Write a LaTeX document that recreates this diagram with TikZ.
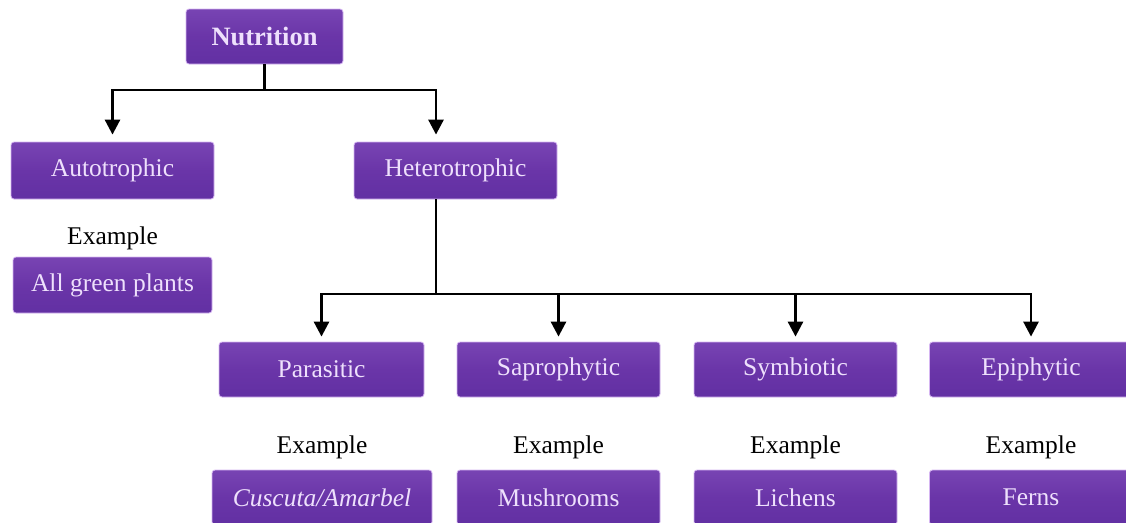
\documentclass[tikz,border=0pt]{standalone}
\usepackage{fontspec}
\setmainfont{Liberation Serif}
\usetikzlibrary{arrows.meta}
\definecolor{boxtop}{HTML}{7844B3}
\definecolor{boxmid}{HTML}{6A35A8}
\definecolor{boxbot}{HTML}{6230A3}
\definecolor{boxedge}{HTML}{D6B6F2}
\definecolor{boxtext}{HTML}{EEE0FC}
\tikzset{
  pbox/.style={draw=boxedge, line width=0.8pt, rounded corners=3pt,
    top color=boxtop, bottom color=boxbot, middle color=boxmid,
    text=boxtext, minimum width=203pt, minimum height=55pt, inner sep=0pt,
    font=\fontsize{25.5}{30}\selectfont},
  extext/.style={text=black, inner sep=0pt, font=\fontsize{25.5}{30}\selectfont},
  arr/.style={line width=2.8pt, -{Triangle[width=15pt,length=15pt]}},
  plainline/.style={line width=2.8pt}
}
\begin{document}
\begin{tikzpicture}[x=1pt,y=-1pt]
\clip (0,0) rectangle (1126,522);
\fill[white] (0,0) rectangle (1126,522);
% top level
\node[pbox, minimum width=157pt, font=\fontsize{26.5}{30}\selectfont\bfseries] (nut) at (264.5,36.5) {Nutrition};
\node[pbox, minimum height=57pt] (auto) at (112.5,170.5) {Autotrophic};
\node[pbox, minimum height=57pt] (het) at (455.5,170.5) {Heterotrophic};
\node[extext] (ex0) at (112.5,238) {Example};
\node[pbox, minimum width=199pt, minimum height=56pt] (agp) at (112.5,285) {All green plants};
% second level
\node[pbox, minimum width=205pt] (para) at (321.5,369.5) {Parasitic};
\node[pbox] (sapr) at (558.5,369.5) {Saprophytic};
\node[pbox] (symb) at (795.5,369.5) {Symbiotic};
\node[pbox] (epi) at (1031,369.5) {Epiphytic};
\node[extext] (ex1) at (322,447) {Example};
\node[extext] (ex2) at (558.5,447) {Example};
\node[extext] (ex3) at (795.5,447) {Example};
\node[extext] (ex4) at (1031,447) {Example};
\node[pbox, minimum width=220pt] (cus) at (322,497.5) {\textit{Cuscuta/Amarbel}};
\node[pbox] (mush) at (558.5,497.5) {Mushrooms};
\node[pbox] (lich) at (795.5,497.5) {Lichens};
\node[pbox] (fern) at (1031,497.5) {Ferns};
% connectors
\coordinate (hx) at (436,0);
\coordinate (j1) at (264.5,90);
\coordinate (j2) at (436,294);
\draw[plainline] (nut.south) -- (j1);
\draw[arr, shorten >=7pt] (j1) -| (auto.north);
\draw[arr, shorten >=7pt] (j1) -| (het.north -| hx);
\draw[plainline] (het.south -| hx) -- (j2);
\draw[arr, shorten >=5pt] (j2) -| (para.north);
\draw[arr, shorten >=5pt] (j2) -| (sapr.north);
\draw[arr, shorten >=5pt] (j2) -| (symb.north);
\draw[arr, shorten >=5pt] (j2) -| (epi.north);
\end{tikzpicture}
\end{document}
